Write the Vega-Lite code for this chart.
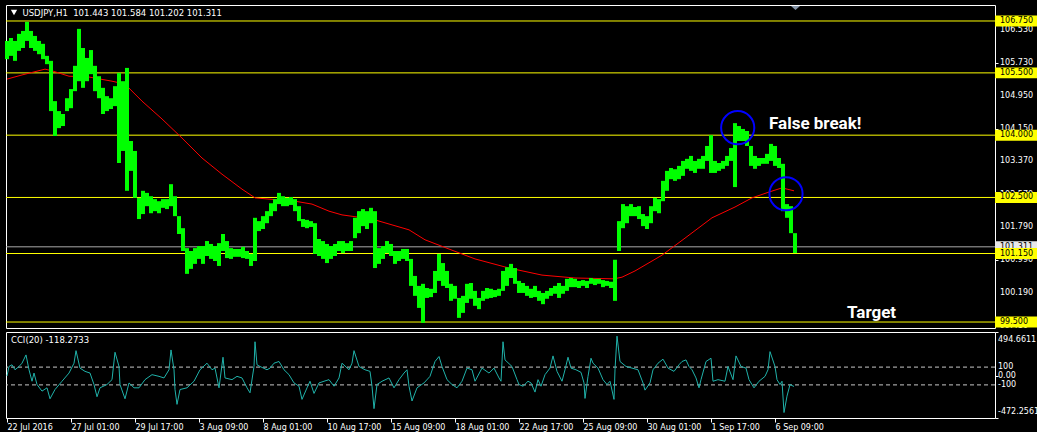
{
"$schema": "https://vega.github.io/schema/vega-lite/v6.json",
"background": "#000000",
"padding": {"left": 4, "top": 4, "right": 0, "bottom": 0},
"spacing": 0,
"config": {
  "view": {"stroke": "#ffffff", "strokeWidth": 1},
  "axis": {"labelFont": "DejaVu Sans", "labelFontSize": 8, "labelColor": "#ffffff", "tickColor": "#ffffff", "domain": false, "grid": false, "labelOverlap": false, "labelFlush": false}
},
"datasets": {
  "bars": [
{"i":0,"lo":105.83,"hi":106.27},{"i":4,"lo":105.91,"hi":106.34},{"i":8,"lo":105.79,"hi":106.27},{"i":12,"lo":106.03,"hi":106.44},{"i":16,"lo":106.10,"hi":106.51},{"i":20,"lo":106.27,"hi":106.73},{"i":24,"lo":106.10,"hi":106.51},{"i":28,"lo":106.03,"hi":106.39},{"i":32,"lo":105.95,"hi":106.27},{"i":36,"lo":105.83,"hi":106.20},
{"i":40,"lo":105.71,"hi":105.91},{"i":44,"lo":104.58,"hi":105.79},{"i":48,"lo":103.98,"hi":104.82},{"i":52,"lo":104.17,"hi":104.58},{"i":56,"lo":104.22,"hi":104.51},{"i":60,"lo":104.58,"hi":104.89},{"i":64,"lo":104.65,"hi":105.11},{"i":68,"lo":105.06,"hi":105.67},{"i":72,"lo":105.30,"hi":106.56},{"i":76,"lo":105.14,"hi":106.10},
{"i":80,"lo":105.30,"hi":105.86},{"i":84,"lo":105.47,"hi":106.05},{"i":88,"lo":105.06,"hi":105.67},{"i":92,"lo":104.89,"hi":105.42},{"i":96,"lo":104.51,"hi":105.14},{"i":100,"lo":104.58,"hi":104.94},{"i":104,"lo":104.63,"hi":104.89},{"i":108,"lo":104.70,"hi":105.18},{"i":112,"lo":103.33,"hi":105.50},{"i":116,"lo":103.62,"hi":105.30},
{"i":120,"lo":102.66,"hi":105.62},{"i":124,"lo":103.14,"hi":103.86},{"i":128,"lo":102.49,"hi":103.62},{"i":132,"lo":101.98,"hi":102.49},{"i":136,"lo":102.10,"hi":102.66},{"i":140,"lo":102.29,"hi":102.61},{"i":144,"lo":102.12,"hi":102.53},{"i":148,"lo":102.17,"hi":102.46},{"i":152,"lo":102.12,"hi":102.41},{"i":156,"lo":102.25,"hi":102.46},
{"i":160,"lo":102.22,"hi":102.46},{"i":164,"lo":102.29,"hi":102.82},{"i":168,"lo":102.05,"hi":102.53},{"i":172,"lo":101.62,"hi":102.05},{"i":176,"lo":101.21,"hi":101.76},{"i":180,"lo":100.66,"hi":101.28},{"i":184,"lo":100.78,"hi":101.21},{"i":188,"lo":100.90,"hi":101.28},{"i":192,"lo":101.02,"hi":101.33},{"i":196,"lo":100.90,"hi":101.33},
{"i":200,"lo":101.09,"hi":101.45},{"i":204,"lo":101.02,"hi":101.38},{"i":208,"lo":100.97,"hi":101.33},{"i":212,"lo":100.85,"hi":101.40},{"i":216,"lo":101.21,"hi":101.62},{"i":220,"lo":101.04,"hi":101.45},{"i":224,"lo":101.02,"hi":101.28},{"i":228,"lo":101.07,"hi":101.26},{"i":232,"lo":101.07,"hi":101.26},{"i":236,"lo":101.04,"hi":101.31},
{"i":240,"lo":101.02,"hi":101.21},{"i":244,"lo":100.85,"hi":101.14},{"i":248,"lo":100.97,"hi":102.01},{"i":252,"lo":101.69,"hi":101.93},{"i":256,"lo":101.74,"hi":102.05},{"i":260,"lo":101.88,"hi":102.17},{"i":264,"lo":102.05,"hi":102.36},{"i":268,"lo":102.17,"hi":102.46},{"i":272,"lo":102.34,"hi":102.61},{"i":276,"lo":102.29,"hi":102.53},
{"i":280,"lo":102.29,"hi":102.49},{"i":284,"lo":102.32,"hi":102.51},{"i":288,"lo":102.17,"hi":102.46},{"i":292,"lo":101.93,"hi":102.29},{"i":296,"lo":101.79,"hi":101.98},{"i":300,"lo":101.76,"hi":101.96},{"i":304,"lo":101.79,"hi":101.93},{"i":308,"lo":101.14,"hi":101.88},{"i":312,"lo":101.09,"hi":101.50},{"i":316,"lo":101.02,"hi":101.45},
{"i":320,"lo":100.92,"hi":101.38},{"i":324,"lo":101.02,"hi":101.33},{"i":328,"lo":101.09,"hi":101.38},{"i":332,"lo":101.21,"hi":101.45},{"i":336,"lo":101.16,"hi":101.45},{"i":340,"lo":101.21,"hi":101.40},{"i":344,"lo":101.21,"hi":101.45},{"i":348,"lo":101.52,"hi":102.01},{"i":352,"lo":101.64,"hi":102.17},{"i":356,"lo":101.81,"hi":102.22},
{"i":360,"lo":101.74,"hi":102.17},{"i":364,"lo":101.88,"hi":102.25},{"i":368,"lo":100.80,"hi":102.17},{"i":372,"lo":100.90,"hi":101.28},{"i":376,"lo":101.02,"hi":101.33},{"i":380,"lo":101.16,"hi":101.45},{"i":384,"lo":101.09,"hi":101.38},{"i":388,"lo":100.90,"hi":101.21},{"i":392,"lo":100.97,"hi":101.21},{"i":396,"lo":101.02,"hi":101.26},
{"i":400,"lo":100.97,"hi":101.26},{"i":404,"lo":100.37,"hi":101.02},{"i":408,"lo":100.13,"hi":100.61},{"i":412,"lo":99.84,"hi":100.37},{"i":416,"lo":99.48,"hi":100.42},{"i":420,"lo":100.08,"hi":100.32},{"i":424,"lo":100.10,"hi":100.30},{"i":428,"lo":100.20,"hi":100.73},{"i":432,"lo":100.49,"hi":101.14},{"i":436,"lo":100.37,"hi":100.92},
{"i":440,"lo":100.32,"hi":100.73},{"i":444,"lo":100.01,"hi":100.42},{"i":448,"lo":100.06,"hi":100.37},{"i":452,"lo":99.60,"hi":100.08},{"i":456,"lo":99.72,"hi":100.13},{"i":460,"lo":99.96,"hi":100.42},{"i":464,"lo":100.06,"hi":100.44},{"i":468,"lo":99.89,"hi":100.25},{"i":472,"lo":99.81,"hi":100.08},{"i":476,"lo":100.01,"hi":100.25},
{"i":480,"lo":100.06,"hi":100.32},{"i":484,"lo":100.08,"hi":100.30},{"i":488,"lo":100.10,"hi":100.27},{"i":492,"lo":100.13,"hi":100.30},{"i":496,"lo":100.25,"hi":100.73},{"i":500,"lo":100.37,"hi":100.82},{"i":504,"lo":100.56,"hi":100.90},{"i":508,"lo":100.42,"hi":100.80},{"i":512,"lo":100.20,"hi":100.49},{"i":516,"lo":100.20,"hi":100.44},
{"i":520,"lo":100.13,"hi":100.37},{"i":524,"lo":100.08,"hi":100.30},{"i":528,"lo":100.10,"hi":100.37},{"i":532,"lo":100.01,"hi":100.25},{"i":536,"lo":99.93,"hi":100.20},{"i":540,"lo":100.06,"hi":100.25},{"i":544,"lo":100.13,"hi":100.32},{"i":548,"lo":100.18,"hi":100.37},{"i":552,"lo":100.08,"hi":100.44},{"i":556,"lo":100.18,"hi":100.37},
{"i":560,"lo":100.25,"hi":100.54},{"i":564,"lo":100.34,"hi":100.56},{"i":568,"lo":100.34,"hi":100.54},{"i":572,"lo":100.32,"hi":100.49},{"i":576,"lo":100.37,"hi":100.51},{"i":580,"lo":100.32,"hi":100.49},{"i":584,"lo":100.42,"hi":100.56},{"i":588,"lo":100.39,"hi":100.54},{"i":592,"lo":100.42,"hi":100.54},{"i":596,"lo":100.34,"hi":100.51},
{"i":600,"lo":100.37,"hi":100.49},{"i":604,"lo":100.32,"hi":100.47},{"i":608,"lo":100.01,"hi":101.00},{"i":612,"lo":101.21,"hi":101.93},{"i":616,"lo":101.76,"hi":102.34},{"i":620,"lo":101.88,"hi":102.29},{"i":624,"lo":102.05,"hi":102.34},{"i":628,"lo":102.05,"hi":102.27},{"i":632,"lo":101.98,"hi":102.29},{"i":636,"lo":101.81,"hi":102.10},
{"i":640,"lo":101.74,"hi":102.05},{"i":644,"lo":101.88,"hi":102.29},{"i":648,"lo":102.17,"hi":102.49},{"i":652,"lo":102.12,"hi":102.46},{"i":656,"lo":102.41,"hi":102.90},{"i":660,"lo":102.66,"hi":103.14},{"i":664,"lo":102.94,"hi":103.21},{"i":668,"lo":102.90,"hi":103.18},{"i":672,"lo":102.94,"hi":103.26},{"i":676,"lo":103.02,"hi":103.38},
{"i":680,"lo":103.19,"hi":103.43},{"i":684,"lo":103.14,"hi":103.50},{"i":688,"lo":103.09,"hi":103.38},{"i":692,"lo":103.19,"hi":103.43},{"i":696,"lo":103.19,"hi":103.50},{"i":700,"lo":103.38,"hi":103.74},{"i":704,"lo":103.09,"hi":104.00},{"i":708,"lo":103.09,"hi":103.38},{"i":712,"lo":103.14,"hi":103.33},{"i":716,"lo":103.19,"hi":103.38},
{"i":720,"lo":103.26,"hi":103.50},{"i":724,"lo":103.38,"hi":103.69},{"i":728,"lo":102.75,"hi":104.29},{"i":732,"lo":103.86,"hi":104.22},{"i":736,"lo":103.86,"hi":104.15},{"i":740,"lo":103.74,"hi":104.10},{"i":744,"lo":103.26,"hi":103.74},{"i":748,"lo":103.19,"hi":103.50},{"i":752,"lo":103.26,"hi":103.45},{"i":756,"lo":103.31,"hi":103.45},
{"i":760,"lo":103.31,"hi":103.55},{"i":764,"lo":103.38,"hi":103.79},{"i":768,"lo":103.26,"hi":103.74},{"i":772,"lo":103.21,"hi":103.45},{"i":776,"lo":102.17,"hi":103.31},{"i":780,"lo":102.01,"hi":102.34},{"i":784,"lo":101.64,"hi":102.29},{"i":788,"lo":101.16,"hi":101.64}
  ],
  "ma": [
{"i":0,"ma":105.35},{"i":15,"ma":105.45},{"i":38,"ma":105.59},{"i":45,"ma":105.55},{"i":62,"ma":105.42},{"i":82,"ma":105.40},{"i":105,"ma":105.30},{"i":118,"ma":105.23},{"i":135,"ma":104.82},{"i":155,"ma":104.39},{"i":175,"ma":103.93},{"i":195,"ma":103.45},{"i":215,"ma":103.06},{"i":235,"ma":102.70},{"i":248,"ma":102.49},{"i":262,"ma":102.46},{"i":288,"ma":102.41},{"i":305,"ma":102.34},{"i":322,"ma":102.17},{"i":335,"ma":102.08},{"i":365,"ma":101.98},{"i":402,"ma":101.72},{"i":418,"ma":101.48},{"i":445,"ma":101.23},{"i":468,"ma":101.02},{"i":502,"ma":100.80},{"i":535,"ma":100.63},{"i":568,"ma":100.56},{"i":607,"ma":100.54},{"i":615,"ma":100.58},{"i":628,"ma":100.73},{"i":655,"ma":101.11},{"i":678,"ma":101.52},{"i":705,"ma":102.01},{"i":728,"ma":102.27},{"i":745,"ma":102.49},{"i":762,"ma":102.63},{"i":775,"ma":102.73},{"i":787,"ma":102.66}
  ],
  "cci": [
{"i":0,"v":0},{"i":2,"v":107},{"i":5,"v":126},{"i":8,"v":70},{"i":12,"v":107},{"i":15,"v":144},{"i":19,"v":237},{"i":22,"v":70},{"i":25,"v":-59},{"i":27,"v":33},{"i":30,"v":-96},{"i":35,"v":-170},{"i":40,"v":-133},{"i":43,"v":-256},{"i":48,"v":-152},{"i":55,"v":-59},{"i":62,"v":33},{"i":67,"v":144},{"i":69,"v":285},{"i":73,"v":89},{"i":78,"v":52},{"i":83,"v":33},{"i":87,"v":-96},{"i":90,"v":-233},{"i":93,"v":-133},{"i":100,"v":-96},{"i":105,"v":-41},{"i":108,"v":267},{"i":112,"v":107},{"i":113,"v":-96},{"i":118,"v":-256},{"i":122,"v":-78},{"i":127,"v":-133},{"i":132,"v":-133},{"i":138,"v":-41},{"i":145,"v":15},{"i":152,"v":-4},{"i":157,"v":-22},{"i":162,"v":70},{"i":164,"v":293},{"i":167,"v":70},{"i":168,"v":-152},{"i":170,"v":-319},{"i":173,"v":-152},{"i":180,"v":-133},{"i":187,"v":-59},{"i":193,"v":70},{"i":200,"v":144},{"i":205,"v":70},{"i":208,"v":89},{"i":212,"v":-133},{"i":216,"v":211},{"i":218,"v":-22},{"i":225,"v":-41},{"i":230,"v":-4},{"i":235,"v":-22},{"i":240,"v":-133},{"i":243,"v":-189},{"i":247,"v":107},{"i":248,"v":385},{"i":250,"v":126},{"i":253,"v":107},{"i":260,"v":70},{"i":263,"v":89},{"i":267,"v":144},{"i":272,"v":163},{"i":277,"v":70},{"i":282,"v":15},{"i":287,"v":-78},{"i":292,"v":-115},{"i":295,"v":-263},{"i":300,"v":-133},{"i":303,"v":-59},{"i":307,"v":-196},{"i":312,"v":-78},{"i":317,"v":-59},{"i":322,"v":-41},{"i":327,"v":-115},{"i":332,"v":-22},{"i":335,"v":144},{"i":342,"v":70},{"i":345,"v":144},{"i":347,"v":285},{"i":352,"v":107},{"i":358,"v":70},{"i":363,"v":52},{"i":365,"v":-115},{"i":367,"v":-367},{"i":370,"v":-96},{"i":375,"v":-59},{"i":382,"v":-22},{"i":387,"v":-133},{"i":392,"v":-41},{"i":397,"v":33},{"i":400,"v":70},{"i":402,"v":-115},{"i":405,"v":-281},{"i":410,"v":-133},{"i":417,"v":-78},{"i":423,"v":-4},{"i":428,"v":163},{"i":432,"v":219},{"i":435,"v":107},{"i":440,"v":-41},{"i":445,"v":-96},{"i":450,"v":-133},{"i":455,"v":-59},{"i":460,"v":89},{"i":465,"v":70},{"i":468,"v":-59},{"i":475,"v":89},{"i":482,"v":33},{"i":487,"v":89},{"i":492,"v":-22},{"i":494,"v":-59},{"i":496,"v":385},{"i":498,"v":181},{"i":505,"v":107},{"i":510,"v":-41},{"i":512,"v":-96},{"i":516,"v":-115},{"i":521,"v":-59},{"i":524,"v":-78},{"i":528,"v":-181},{"i":531,"v":-41},{"i":534,"v":-115},{"i":538,"v":15},{"i":543,"v":89},{"i":546,"v":226},{"i":550,"v":52},{"i":555,"v":-59},{"i":558,"v":70},{"i":561,"v":211},{"i":564,"v":89},{"i":569,"v":70},{"i":574,"v":41},{"i":577,"v":-78},{"i":578,"v":-252},{"i":581,"v":-4},{"i":584,"v":200},{"i":586,"v":144},{"i":591,"v":89},{"i":596,"v":-41},{"i":600,"v":-96},{"i":603,"v":-59},{"i":607,"v":-263},{"i":608,"v":70},{"i":610,"v":448},{"i":613,"v":163},{"i":619,"v":107},{"i":625,"v":89},{"i":631,"v":70},{"i":636,"v":-78},{"i":638,"v":-159},{"i":643,"v":-78},{"i":646,"v":70},{"i":651,"v":144},{"i":656,"v":189},{"i":661,"v":89},{"i":667,"v":52},{"i":672,"v":126},{"i":675,"v":163},{"i":679,"v":181},{"i":682,"v":107},{"i":685,"v":70},{"i":689,"v":-22},{"i":692,"v":-133},{"i":694,"v":-41},{"i":699,"v":163},{"i":704,"v":200},{"i":706,"v":-59},{"i":711,"v":-41},{"i":718,"v":-59},{"i":721,"v":107},{"i":726,"v":-41},{"i":729,"v":226},{"i":734,"v":107},{"i":739,"v":89},{"i":742,"v":-41},{"i":747,"v":-133},{"i":752,"v":-59},{"i":758,"v":-4},{"i":761,"v":70},{"i":763,"v":274},{"i":768,"v":107},{"i":770,"v":-41},{"i":773,"v":-96},{"i":775,"v":-59},{"i":777,"v":-411},{"i":780,"v":-226},{"i":783,"v":-96},{"i":787,"v":-118}
  ],
  "levels": [
{"p":106.75,"t":"106.750"},{"p":105.5,"t":"105.500"},{"p":104.0,"t":"104.000"},{"p":102.5,"t":"102.500"},{"p":101.15,"t":"101.150"},{"p":99.5,"t":"99.500"}
  ],
  "yticks": [
{"p":106.53,"t":"106.530"},{"p":105.73,"t":"105.730"},{"p":104.95,"t":"104.950"},{"p":104.15,"t":"104.150"},{"p":103.37,"t":"103.370"},{"p":102.57,"t":"102.570"},{"p":101.79,"t":"101.790"},{"p":100.99,"t":"100.990"},{"p":100.19,"t":"100.190"},{"p":99.41,"t":"99.410"}
  ],
  "current": [{"p":101.311,"t":"101.311"}],
  "circles": [{"i":730.7,"p":104.18},{"i":779,"p":102.59}],
  "notes": [{"i":762,"p":104.27,"t":"False break!"},{"i":840,"p":99.72,"t":"Target"}],
  "header": [{"i":15.5,"p":106.94,"t":"USDJPY,H1\u00a0 101.443 101.584 101.202 101.311"}],
  "menu": [{"i":7,"p":106.955}],
  "shift": [{"i":788.5,"p":107.063}],
  "ccilevels": [{"v":100},{"v":-100}],
  "ccimid": [{"v":100,"t":"100"},{"v":0,"t":"0.00"},{"v":-100,"t":"-100"}],
  "ccitop": [{"v":494.6611,"t":"494.6611"}],
  "ccibot": [{"v":-472.2561,"t":"-472.2561"}],
  "ccititle": [{"i":4,"v":400,"t":"CCI(20) -118.2733"}]
},
"vconcat": [
  {
    "width": 989,
    "height": 323,
    "layer": [
      {
        "data": {"name": "levels"},
        "mark": {"type": "rule", "color": "#ffff00", "strokeWidth": 1},
        "encoding": {
          "y": {"field": "p", "type": "quantitative", "scale": {"domain": [99.356, 107.135], "nice": false, "zero": false},
                "axis": {"orient": "right", "title": null, "values": [106.53, 105.73, 104.95, 104.15, 103.37, 102.57, 101.79, 100.99, 100.19, 99.41], "labels": false, "tickSize": 3}}
        }
      },
      {
        "data": {"name": "current"},
        "mark": {"type": "rule", "color": "#a9a9a9", "strokeWidth": 1},
        "encoding": {
          "y": {"field": "p", "type": "quantitative", "scale": {"domain": [99.356, 107.135], "nice": false, "zero": false}}
        }
      },
      {
        "data": {"name": "ma"},
        "mark": {"type": "line", "color": "#ff0000", "strokeWidth": 1},
        "encoding": {
          "x": {"field": "i", "type": "quantitative", "scale": {"domain": [-1, 988], "nice": false, "zero": false}, "axis": null},
          "y": {"field": "ma", "type": "quantitative", "scale": {"domain": [99.356, 107.135], "nice": false, "zero": false}}
        }
      },
      {
        "data": {"name": "bars"},
        "mark": {"type": "rule", "color": "#00ff00", "strokeWidth": 4},
        "encoding": {
          "x": {"field": "i", "type": "quantitative", "scale": {"domain": [-1, 988], "nice": false, "zero": false}, "axis": null},
          "y": {"field": "lo", "type": "quantitative", "scale": {"domain": [99.356, 107.135], "nice": false, "zero": false}},
          "y2": {"field": "hi"}
        }
      },
      {
        "data": {"name": "circles"},
        "mark": {"type": "point", "shape": "circle", "filled": false, "stroke": "#0000ff", "strokeWidth": 2, "size": 1100, "opacity": 1},
        "encoding": {
          "x": {"field": "i", "type": "quantitative", "scale": {"domain": [-1, 988], "nice": false, "zero": false}, "axis": null},
          "y": {"field": "p", "type": "quantitative", "scale": {"domain": [99.356, 107.135], "nice": false, "zero": false}}
        }
      },
      {
        "data": {"name": "notes"},
        "mark": {"type": "text", "color": "#ffffff", "font": "Roboto", "fontWeight": "bold", "fontSize": 17, "align": "left", "baseline": "middle"},
        "encoding": {
          "x": {"field": "i", "type": "quantitative", "scale": {"domain": [-1, 988], "nice": false, "zero": false}, "axis": null},
          "y": {"field": "p", "type": "quantitative", "scale": {"domain": [99.356, 107.135], "nice": false, "zero": false}},
          "text": {"field": "t"}
        }
      },
      {
        "data": {"name": "header"},
        "mark": {"type": "text", "color": "#ffffff", "font": "DejaVu Sans", "fontSize": 8.5, "align": "left", "baseline": "middle"},
        "encoding": {
          "x": {"field": "i", "type": "quantitative", "scale": {"domain": [-1, 988], "nice": false, "zero": false}, "axis": null},
          "y": {"field": "p", "type": "quantitative", "scale": {"domain": [99.356, 107.135], "nice": false, "zero": false}},
          "text": {"field": "t"}
        }
      },
      {
        "data": {"name": "menu"},
        "mark": {"type": "point", "shape": "triangle-down", "filled": true, "color": "#ffffff", "size": 40, "opacity": 1},
        "encoding": {
          "x": {"field": "i", "type": "quantitative", "scale": {"domain": [-1, 988], "nice": false, "zero": false}, "axis": null},
          "y": {"field": "p", "type": "quantitative", "scale": {"domain": [99.356, 107.135], "nice": false, "zero": false}}
        }
      },
      {
        "data": {"name": "shift"},
        "mark": {"type": "point", "shape": "M-1,-0.45L1,-0.45L0,0.45Z", "filled": true, "color": "#8595a8", "size": 81, "opacity": 1, "strokeWidth": 0},
        "encoding": {
          "x": {"field": "i", "type": "quantitative", "scale": {"domain": [-1, 988], "nice": false, "zero": false}, "axis": null},
          "y": {"field": "p", "type": "quantitative", "scale": {"domain": [99.356, 107.135], "nice": false, "zero": false}}
        }
      },
      {
        "data": {"name": "yticks"},
        "mark": {"type": "text", "color": "#ffffff", "font": "DejaVu Sans", "fontSize": 8, "align": "left", "baseline": "middle"},
        "encoding": {
          "x": {"datum": 993, "type": "quantitative", "scale": {"domain": [-1, 988], "nice": false, "zero": false}, "axis": null},
          "y": {"field": "p", "type": "quantitative", "scale": {"domain": [99.356, 107.135], "nice": false, "zero": false}},
          "text": {"field": "t"}
        }
      },
      {
        "data": {"name": "current"},
        "mark": {"type": "point", "shape": "M-1,-0.26L1,-0.26L1,0.26L-1,0.26Z", "filled": true, "color": "#e8e8e8", "size": 1764, "opacity": 1, "strokeWidth": 0},
        "encoding": {
          "x": {"datum": 1009, "type": "quantitative", "scale": {"domain": [-1, 988], "nice": false, "zero": false}, "axis": null},
          "y": {"field": "p", "type": "quantitative", "scale": {"domain": [99.356, 107.135], "nice": false, "zero": false}}
        }
      },
      {
        "data": {"name": "current"},
        "mark": {"type": "text", "color": "#000000", "font": "DejaVu Sans", "fontSize": 8, "align": "left", "baseline": "middle"},
        "encoding": {
          "x": {"datum": 993, "type": "quantitative", "scale": {"domain": [-1, 988], "nice": false, "zero": false}, "axis": null},
          "y": {"field": "p", "type": "quantitative", "scale": {"domain": [99.356, 107.135], "nice": false, "zero": false}},
          "text": {"field": "t"}
        }
      },
      {
        "data": {"name": "levels"},
        "mark": {"type": "point", "shape": "M-1,-0.26L1,-0.26L1,0.26L-1,0.26Z", "filled": true, "color": "#ffff00", "size": 1764, "opacity": 1, "strokeWidth": 0},
        "encoding": {
          "x": {"datum": 1009, "type": "quantitative", "scale": {"domain": [-1, 988], "nice": false, "zero": false}, "axis": null},
          "y": {"field": "p", "type": "quantitative", "scale": {"domain": [99.356, 107.135], "nice": false, "zero": false}}
        }
      },
      {
        "data": {"name": "levels"},
        "mark": {"type": "text", "color": "#000000", "font": "DejaVu Sans", "fontSize": 8, "align": "left", "baseline": "middle"},
        "encoding": {
          "x": {"datum": 993, "type": "quantitative", "scale": {"domain": [-1, 988], "nice": false, "zero": false}, "axis": null},
          "y": {"field": "p", "type": "quantitative", "scale": {"domain": [99.356, 107.135], "nice": false, "zero": false}},
          "text": {"field": "t"}
        }
      }
    ]
  },
  {
    "width": 989,
    "height": 86,
    "layer": [
      {
        "data": {"name": "ccilevels"},
        "mark": {"type": "rule", "color": "#c8c8c8", "strokeWidth": 1, "strokeDash": [4, 3]},
        "encoding": {
          "y": {"field": "v", "type": "quantitative", "scale": {"domain": [-472.2561, 494.6611], "nice": false, "zero": false},
                "axis": {"orient": "right", "title": null, "values": [494.6611, 100, 0, -100, -472.2561], "labels": false, "tickSize": 3}}
        }
      },
      {
        "data": {"name": "cci"},
        "mark": {"type": "line", "color": "#20b2aa", "strokeWidth": 1},
        "encoding": {
          "x": {"field": "i", "type": "quantitative", "scale": {"domain": [-1, 988], "nice": false, "zero": false},
                "axis": {"orient": "bottom", "title": null, "values": [0, 64, 128, 192, 256, 320, 384, 448, 512, 576, 640, 704, 768],
                         "labelExpr": "['22 Jul 2016','27 Jul 01:00','29 Jul 17:00','3 Aug 09:00','8 Aug 01:00','10 Aug 17:00','15 Aug 09:00','18 Aug 01:00','22 Aug 17:00','25 Aug 09:00','30 Aug 01:00','1 Sep 17:00','6 Sep 09:00'][round(datum.value/64)]",
                         "labelAlign": "left", "labelBaseline": "top", "tickSize": 4, "labelPadding": 1, "labelOverlap": false, "labelFlush": false, "labelBound": false}},
          "y": {"field": "v", "type": "quantitative", "scale": {"domain": [-472.2561, 494.6611], "nice": false, "zero": false}}
        }
      },
      {
        "data": {"name": "ccititle"},
        "mark": {"type": "text", "color": "#ffffff", "font": "DejaVu Sans", "fontSize": 8.5, "align": "left", "baseline": "middle"},
        "encoding": {
          "x": {"field": "i", "type": "quantitative", "scale": {"domain": [-1, 988], "nice": false, "zero": false}},
          "y": {"field": "v", "type": "quantitative", "scale": {"domain": [-472.2561, 494.6611], "nice": false, "zero": false}},
          "text": {"field": "t"}
        }
      },
      {
        "data": {"name": "ccimid"},
        "mark": {"type": "text", "color": "#ffffff", "font": "DejaVu Sans", "fontSize": 8, "align": "left", "baseline": "middle"},
        "encoding": {
          "x": {"datum": 991, "type": "quantitative", "scale": {"domain": [-1, 988], "nice": false, "zero": false}},
          "y": {"field": "v", "type": "quantitative", "scale": {"domain": [-472.2561, 494.6611], "nice": false, "zero": false}},
          "text": {"field": "t"}
        }
      },
      {
        "data": {"name": "ccitop"},
        "mark": {"type": "text", "color": "#ffffff", "font": "DejaVu Sans", "fontSize": 8, "align": "left", "baseline": "middle", "dy": 8},
        "encoding": {
          "x": {"datum": 991, "type": "quantitative", "scale": {"domain": [-1, 988], "nice": false, "zero": false}},
          "y": {"field": "v", "type": "quantitative", "scale": {"domain": [-472.2561, 494.6611], "nice": false, "zero": false}},
          "text": {"field": "t"}
        }
      },
      {
        "data": {"name": "ccibot"},
        "mark": {"type": "text", "color": "#ffffff", "font": "DejaVu Sans", "fontSize": 8, "align": "left", "baseline": "middle", "dy": -6},
        "encoding": {
          "x": {"datum": 991, "type": "quantitative", "scale": {"domain": [-1, 988], "nice": false, "zero": false}},
          "y": {"field": "v", "type": "quantitative", "scale": {"domain": [-472.2561, 494.6611], "nice": false, "zero": false}},
          "text": {"field": "t"}
        }
      }
    ]
  }
]
}
